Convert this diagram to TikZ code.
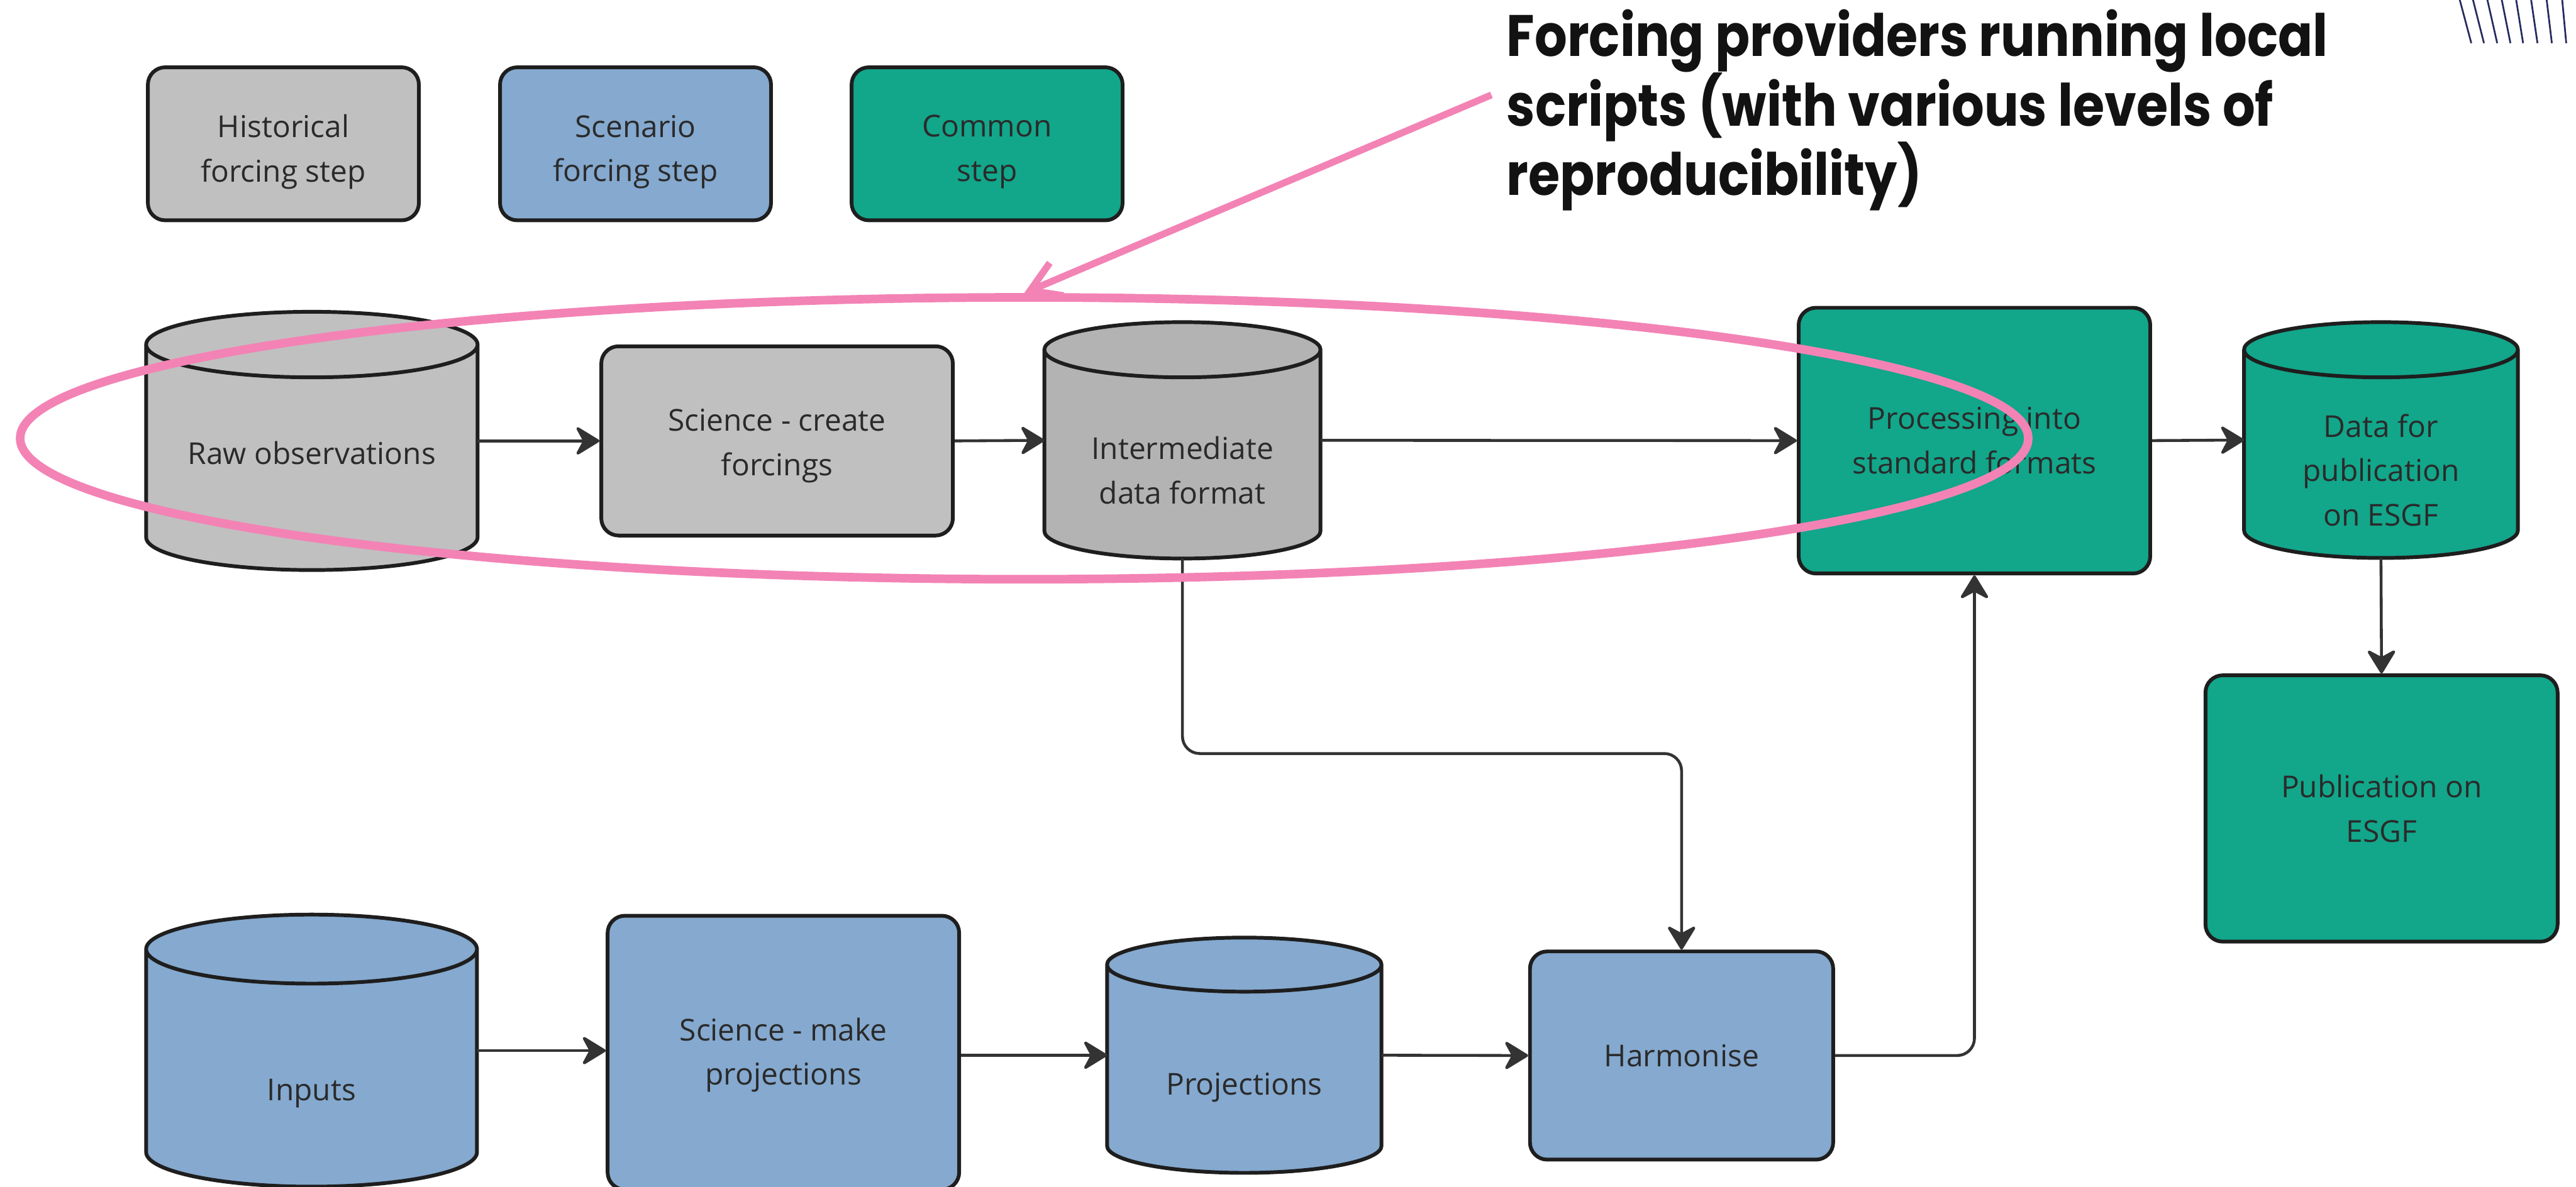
\documentclass[tikz,border=0pt]{standalone}
\usepackage{fontspec}
\setmainfont{Open Sans}
\newfontfamily\annotfont{Poppins}[FakeStretch=0.875]
\usetikzlibrary{arrows.meta,calc,shapes.geometric}
\pgfdeclarelayer{background}
\pgfsetlayers{background,main}
\definecolor{histgray}{HTML}{C0C0C0}
\definecolor{intergray}{HTML}{B3B3B3}
\definecolor{scenblue}{HTML}{85A9CF}
\definecolor{commgreen}{HTML}{12A68A}
\definecolor{bordc}{HTML}{1E1E1E}
\definecolor{arrc}{HTML}{333333}
\definecolor{pinkc}{HTML}{F383B5}
\definecolor{navyc}{HTML}{262A5E}
\definecolor{txtc}{HTML}{2A2A2A}
\tikzset{
  boxtxt/.style={font=\fontsize{14.9}{21.9}\selectfont, text=txtc, align=center},
  stepbox/.style={boxtxt, rectangle, rounded corners=0.3cm, draw=bordc, line width=0.065cm, inner sep=0},
  cylnode/.style={rectangle, draw=none, inner sep=0, outer sep=0.03cm},
  cylborder/.style={draw=bordc, line width=0.065cm},
  conn/.style={draw=arrc, line width=0.05cm, -{Stealth[length=0.46cm,width=0.56cm,inset=0.15cm,round]}},
  hatch/.style={draw=navyc, line width=0.03cm},
}
\newcommand\cylbody[3]{%
  \begin{pgfonlayer}{background}
  \draw[cylborder, fill=#2] let \p1=(#1.north west), \p2=(#1.south east), \n1={(\x2-\x1)/2} in
    (\x1,{\y1-#3}) -- (\x1,{\y2+#3})
    arc[start angle=180, end angle=360, x radius=\n1, y radius=#3]
    -- (\x2,{\y1-#3})
    arc[start angle=0, end angle=180, x radius=\n1, y radius=#3] -- cycle
    (\x1,{\y1-#3}) arc[start angle=180, end angle=360, x radius=\n1, y radius=#3];
  \end{pgfonlayer}}
\begin{document}
\begin{tikzpicture}
\useasboundingbox (0,0) rectangle (44.77,-20.63);

% legend
\node[stepbox, fill=histgray, minimum width=4.71cm, minimum height=2.66cm,
  label={[boxtxt, yshift=-0.14cm]center:Historical\\forcing step}] (legH) at (4.925,-2.50) {};
\node[stepbox, fill=scenblue, minimum width=4.71cm, minimum height=2.66cm,
  label={[boxtxt, yshift=-0.14cm]center:Scenario\\forcing step}] (legS) at (11.045,-2.50) {};
\node[stepbox, fill=commgreen, minimum width=4.71cm, minimum height=2.66cm,
  label={[boxtxt, yshift=-0.14cm]center:Common\\step}] (legC) at (17.155,-2.50) {};

% top row
\node[cylnode, minimum width=5.70cm, minimum height=4.43cm] (raw) at (5.42,-7.665) {};
\cylbody{raw}{histgray}{0.57cm}
\node[boxtxt] (rawT) at ($(raw.center)+(0,-0.21)$) {Raw observations};

\node[stepbox, fill=histgray, minimum width=6.11cm, minimum height=3.29cm,
  label={[boxtxt, yshift=-0.085cm]center:Science - create\\forcings}] (sci1) at (13.505,-7.665) {};

\node[cylnode, minimum width=4.74cm, minimum height=4.05cm] (inter) at (20.55,-7.655) {};
\cylbody{inter}{intergray}{0.48cm}
\node[boxtxt] (interT) at ($(inter.center)+(0,-0.52)$) {Intermediate\\data format};

\node[stepbox, fill=commgreen, minimum width=6.11cm, minimum height=4.62cm] (proc) at (34.315,-7.66) {Processing into\\standard formats};

\node[cylnode, minimum width=4.70cm, minimum height=4.04cm] (data) at (41.38,-7.65) {};
\cylbody{data}{commgreen}{0.48cm}
\node[boxtxt] (dataT) at ($(data.center)+(0,-0.52)$) {Data for\\publication\\on ESGF};

\node[stepbox, fill=commgreen, minimum width=6.12cm, minimum height=4.63cm] (pub) at (41.39,-14.055) {Publication on\\ESGF};

% bottom row
\node[cylnode, minimum width=5.69cm, minimum height=4.67cm] (inp) at (5.415,-18.265) {};
\cylbody{inp}{scenblue}{0.60cm}
\node[boxtxt] (inpT) at ($(inp.center)+(0,-0.745)$) {Inputs};

\node[stepbox, fill=scenblue, minimum width=6.11cm, minimum height=4.76cm,
  label={[boxtxt, yshift=-0.04cm]center:Science - make\\projections}] (sci2) at (13.615,-18.30) {};

\node[cylnode, minimum width=4.71cm, minimum height=4.03cm] (proj) at (21.625,-18.345) {};
\cylbody{proj}{scenblue}{0.47cm}
\node[boxtxt] (projT) at ($(proj.center)+(0,-0.56)$) {Projections};

\node[stepbox, fill=scenblue, minimum width=5.27cm, minimum height=3.62cm] (harm) at (29.225,-18.35) {Harmonise};

% connectors
\draw[conn] (raw.east) -- (sci1.west);
\draw[conn] (sci1.east) -- (inter.west);
\draw[conn] (inter.east) -- (proc.west);
\draw[conn] (proc.east) -- (data.west);
\draw[conn] (data.south) -- (pub.north);
\draw[conn] (inp.east) -- (inp.east -| sci2.west);
\draw[conn] (sci2.east |- proj.west) -- (proj.west);
\draw[conn] (proj.east) -- (harm.west);
\coordinate (jog) at (20.55,-13.10);
\draw[conn, rounded corners=0.3cm] (inter.south) -- (jog) -| (harm.north);
\draw[conn, rounded corners=0.3cm] (harm.east) -| (proc.south);

% decorative hatch (top right)
\begin{scope}
\clip (0,0) rectangle (44.77,-20.63);
\foreach \xt/\xb in {42.75/42.95, 42.98/43.17, 43.23/43.40, 43.48/43.63, 43.73/43.85, 43.99/44.10, 44.26/44.35, 44.53/44.60}{
  \draw[hatch] ($(\xt,0)!-0.3!(\xb,-0.75)$) -- (\xb,-0.75);
}
\end{scope}

% annotation
\node[pinkc, draw, line width=0.15cm, ellipse, minimum width=34.9cm, minimum height=4.9cm, inner sep=0] (hl) at (17.80,-7.62) {};
\node[anchor=north west, inner sep=0, align=left, text=black!93, font=\annotfont\bfseries\fontsize{28.9}{34.4}\selectfont] (annot) at (26.18,-0.16) {Forcing providers running local\\scripts (with various levels of\\reproducibility)};
\coordinate (pstart) at (25.92,-1.65);
\draw[pinkc, line width=0.12cm, -{Straight Barb[length=0.5cm,width=0.62cm]}] (pstart) -- (hl.north);
\end{tikzpicture}
\end{document}
